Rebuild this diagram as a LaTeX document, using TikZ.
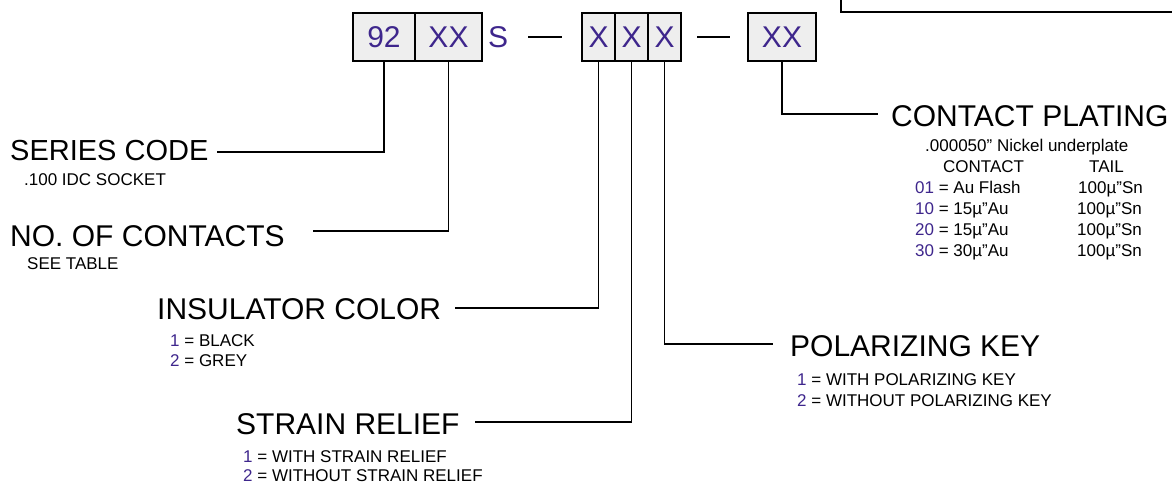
\documentclass[tikz,border=0pt]{standalone}
\usepackage{fontspec}
\setmainfont{Liberation Sans}
\definecolor{codepurple}{RGB}{62,38,140}
\definecolor{boxgray}{RGB}{238,238,238}
\tikzset{
  bigtext/.style={anchor=base west, inner sep=0, font=\fontsize{30bp}{36bp}\selectfont},
  smalltext/.style={anchor=base west, inner sep=0, font=\fontsize{17bp}{20bp}\selectfont},
  codebox/.style={draw, line width=2.2bp, fill=boxgray, text=codepurple, minimum height=48bp, inner sep=0, font=\fontsize{30bp}{36bp}\selectfont},
  leader/.style={line width=1.8bp},
  dashline/.style={line width=2bp},
}
\newcommand{\pn}[1]{\textcolor{codepurple}{#1}}
\begin{document}
\begin{tikzpicture}[x=1bp,y=-1bp]
\useasboundingbox (0,0) rectangle (1172,483);
\clip (0,0) rectangle (1172,483);
% top-right frame (cropped)
\draw[line width=2.5bp] (841,-20) rectangle (1190,12);
% code boxes
\node[codebox, minimum width=62bp] (b92) at (384,37) {92};
\node[codebox, minimum width=67bp] (bxx) at (448.5,37) {XX};
\node[inner sep=0, text=codepurple, font=\fontsize{30bp}{36bp}\selectfont] (s) at (498,37) {S};
\draw[dashline] (528,37) -- (562,37);
\node[codebox, minimum width=33bp] (x1) at (598.5,37) {X};
\node[codebox, minimum width=33bp] (x2) at (631.5,37) {X};
\node[codebox, minimum width=33bp] (x3) at (664.5,37) {X};
\draw[dashline] (697,37) -- (730,37);
\node[codebox, minimum width=68bp] (bpl) at (782,37) {XX};
% labels
\node[bigtext, font=\fontsize{29bp}{35bp}\selectfont] (series) at (10,161) {SERIES CODE};
\node[smalltext] (seriesd) at (24,186) {.100 IDC SOCKET};
\node[bigtext] (nocont) at (10,247) {NO. OF CONTACTS};
\node[smalltext] (nocontd) at (27,270) {SEE TABLE};
\node[bigtext] (insul) at (157,320) {INSULATOR COLOR};
\node[smalltext] (insula) at (170,347) {\pn{1} = BLACK};
\node[smalltext] (insulb) at (170,367) {\pn{2} = GREY};
\node[bigtext] (strain) at (236,434) {STRAIN RELIEF};
\node[smalltext] (straina) at (243,462) {\pn{1} = WITH STRAIN RELIEF};
\node[smalltext] (strainb) at (243,481) {\pn{2} = WITHOUT STRAIN RELIEF};
\node[bigtext] (polar) at (790,357) {POLARIZING KEY};
\node[smalltext] (polara) at (797,386) {\pn{1} = WITH POLARIZING KEY};
\node[smalltext] (polarb) at (797,406) {\pn{2} = WITHOUT POLARIZING KEY};
\node[bigtext] (plating) at (891,127) {CONTACT PLATING};
\node[smalltext] (platingd) at (925,152) {.000050” Nickel underplate};
\node[smalltext] (hcontact) at (943,173) {CONTACT};
\node[smalltext] (htail) at (1089,173) {TAIL};
\node[smalltext] (r1) at (915,194) {\pn{01} = Au Flash};
\node[smalltext] (r1t) at (1078,194) {100µ”Sn};
\node[smalltext] (r2) at (915,215) {\pn{10} = 15µ”Au};
\node[smalltext] (r2t) at (1077,215) {100µ”Sn};
\node[smalltext] (r3) at (915,236) {\pn{20} = 15µ”Au};
\node[smalltext] (r3t) at (1077,236) {100µ”Sn};
\node[smalltext] (r4) at (915,257) {\pn{30} = 30µ”Au};
\node[smalltext] (r4t) at (1077,257) {100µ”Sn};
% leader end points
\coordinate (eseries) at (217,152);
\coordinate (enocont) at (313,231);
\coordinate (einsul) at (455,308);
\coordinate (estrain) at (475,422);
\coordinate (epolar) at (773,344);
\coordinate (eplating) at (878,114);
% leaders
\draw[leader] (b92.south) |- (eseries);
\draw[leader] (bxx.south) |- (enocont);
\draw[leader] (x1.south) |- (einsul);
\draw[leader] (x2.south) |- (estrain);
\draw[leader] (x3.south) |- (epolar);
\draw[leader] (bpl.south) |- (eplating);
\end{tikzpicture}
\end{document}
